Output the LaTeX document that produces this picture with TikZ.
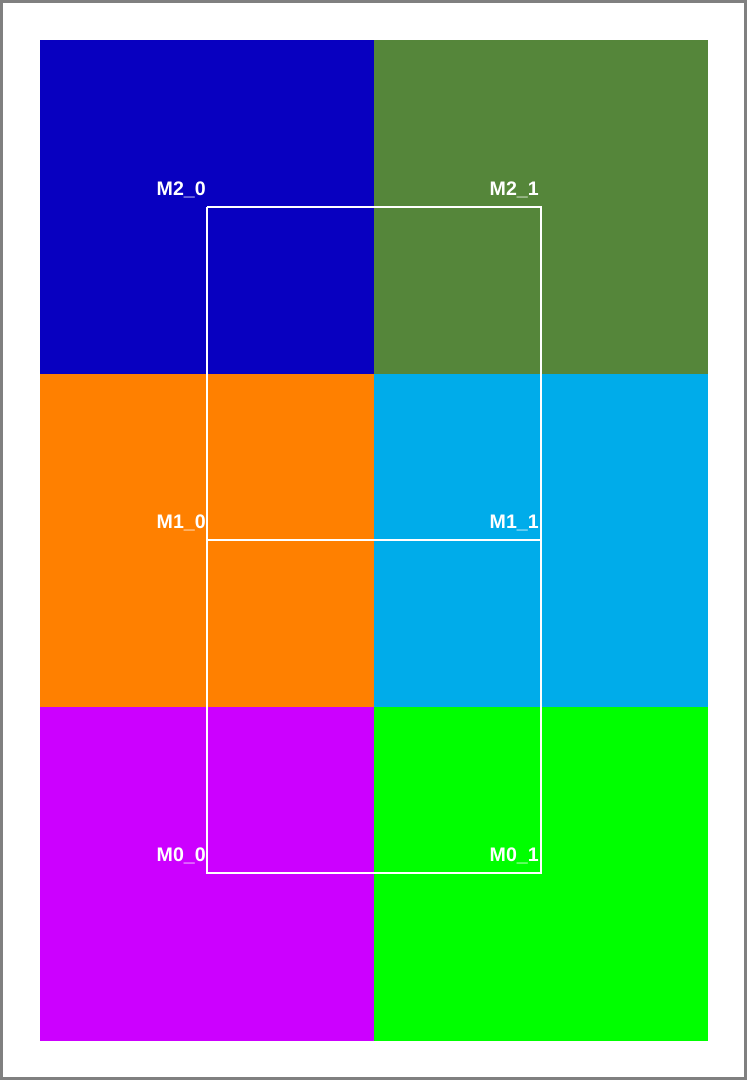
\documentclass[tikz,border=0pt]{standalone}
\usepackage{fontspec}
\setmainfont{Liberation Sans}
\definecolor{cblue}{HTML}{0800C0}
\definecolor{cgreen}{HTML}{55863A}
\definecolor{corange}{HTML}{FF8000}
\definecolor{ccyan}{HTML}{00ACEA}
\definecolor{cpurple}{HTML}{CC00FF}
\definecolor{clime}{HTML}{00FF00}
\definecolor{cborder}{HTML}{808080}
\begin{document}
\begin{tikzpicture}[x=0.75pt,y=-0.75pt,
  cell/.style={draw=none,minimum width=250.5pt,minimum height=250.5pt,inner sep=0pt,outer sep=0pt},
  lbl/.style={text=white,font=\bfseries\fontsize{14.7pt}{16pt}\selectfont,anchor=base east,inner sep=0pt},
  wline/.style={draw=white,line width=1.7pt}]
\useasboundingbox (0,0) rectangle (747,1080);
\fill[cborder] (0,0) rectangle (747,1080);
\fill[white] (3,3) rectangle (744,1077);
\node[cell,fill=cblue]   (c20) at (207,207) {};
\node[cell,fill=cgreen]  (c21) at (541,207) {};
\node[cell,fill=corange] (c10) at (207,540.5) {};
\node[cell,fill=ccyan]   (c11) at (541,540.5) {};
\node[cell,fill=cpurple] (c00) at (207,874) {};
\node[cell,fill=clime]   (c01) at (541,874) {};
\coordinate (p20) at (207,207);
\coordinate (p21) at (541,207);
\coordinate (p10) at (207,540);
\coordinate (p11) at (541,540);
\coordinate (p00) at (207,873);
\coordinate (p01) at (541,873);
\draw[wline] (p20) -- (p21) -- (p11) -- (p01) -- (p00) -- (p10) -- (p20);
\draw[wline] (p10) -- (p11);
\node[lbl] (l20) at (206,195.5) {M2\_0};
\node[lbl] (l21) at (539,195.5) {M2\_1};
\node[lbl] (l10) at (206,528.5) {M1\_0};
\node[lbl] (l11) at (539,528.5) {M1\_1};
\node[lbl] (l00) at (206,861.5) {M0\_0};
\node[lbl] (l01) at (539,861.5) {M0\_1};
\end{tikzpicture}
\end{document}
